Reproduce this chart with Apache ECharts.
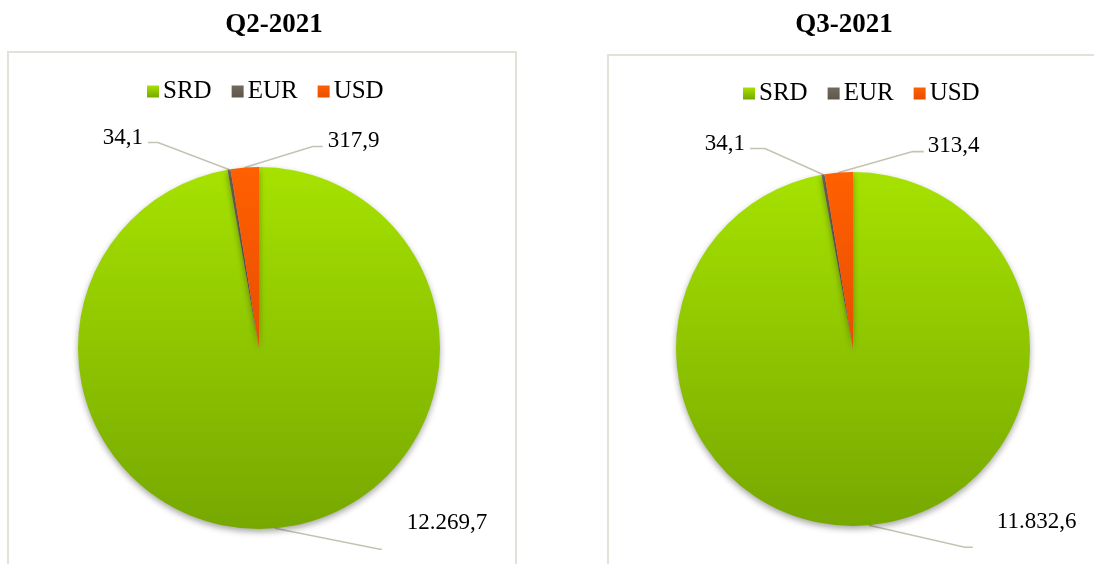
<!DOCTYPE html>
<html>
<head>
<meta charset="utf-8">
<script src="https://cdn.jsdelivr.net/npm/echarts@6/dist/echarts.min.js"></script>
<style>
	html, body { margin: 0; padding: 0; background: #fff; }
	#main { width: 1094px; height: 564px; }
</style>
</head>
<body>
<div id="main"></div>
<script>
// data
var quarters = ['Q2-2021', 'Q3-2021'];
var currencies = ['SRD', 'EUR', 'USD'];
var q2Values = [12269.7, 34.1, 317.9];
var q3Values = [11832.6, 34.1, 313.4];

var colors = {
	SRD: new echarts.graphic.LinearGradient(0, 0, 0, 1, [
		{ offset: 0, color: '#a6e200' },
		{ offset: 1, color: '#76a800' }
	]),
	EUR: new echarts.graphic.LinearGradient(0, 0, 0, 1, [
		{ offset: 0, color: '#736a5e' },
		{ offset: 1, color: '#5e564b' }
	]),
	USD: new echarts.graphic.LinearGradient(0, 0, 0, 1, [
		{ offset: 0, color: '#ff6000' },
		{ offset: 1, color: '#e84e00' }
	])
};

// 12269.7 -> 12.269,7
var fmt = function (v) {
	var parts = v.toFixed(1).split('.');
	var intPart = parts[0].replace(/\B(?=(\d{3})+(?!\d))/g, '.');
	return intPart + ',' + parts[1];
};

// leader line shapes per pie: mid point, end point, label offset (from slice edge)
var leaders = [
	{
		SRD: { mid: [105, 21], end: [2, 0], label: [25, -26], align: 'left' },
		EUR: { mid: [-71, -27], end: [-10, 0], label: [-5, -5], align: 'right' },
		USD: { mid: [68, -21], end: [10, 0], label: [5, -6], align: 'left' }
	},
	{
		SRD: { mid: [96, 22], end: [8, 0], label: [24, -25], align: 'left' },
		EUR: { mid: [-58, -26], end: [-15, 0], label: [-5, -5], align: 'right' },
		USD: { mid: [74, -21], end: [11, 0], label: [4, -6], align: 'left' }
	}
];

var makeLayout = function (idx) {
	return function (params) {
		var name = currencies[params.dataIndex];
		var l = leaders[idx][name];
		var s = params.labelLinePoints[0];
		var m = [s[0] + l.mid[0], s[1] + l.mid[1]];
		var e = [m[0] + l.end[0], m[1] + l.end[1]];
		return {
			x: e[0] + l.label[0],
			y: e[1] + l.label[1],
			align: l.align,
			verticalAlign: 'middle',
			labelLinePoints: [s, m, e]
		};
	};
};

var makeSeries = function (idx, values, center, radius) {
	var data = [];
	for (var i = 0; i < currencies.length; i++) {
		data.push({
			name: currencies[i],
			value: values[i],
			itemStyle: { color: colors[currencies[i]] }
		});
	}
	return {
		type: 'pie',
		name: quarters[idx],
		center: center,
		radius: radius,
		startAngle: 90,
		clockwise: true,
		avoidLabelOverlap: false,
		silent: true,
		animation: false,
		itemStyle: {
			shadowColor: 'rgba(0,0,0,0.35)',
			shadowBlur: 6,
			shadowOffsetY: 3
		},
		label: {
			show: true,
			position: 'outside',
			formatter: function (p) { return fmt(p.value); },
			fontFamily: 'Liberation Serif',
			fontSize: 23,
			color: '#000'
		},
		labelLine: {
			show: true,
			length: 20,
			length2: 10,
			lineStyle: { color: '#c6c2b2', width: 1.6 }
		},
		labelLayout: makeLayout(idx),
		data: data
	};
};

var legendBase = function (x, y) {
	return {
		left: x,
		top: y,
		padding: 0,
		icon: 'rect',
		itemWidth: 12,
		itemHeight: 12,
		itemGap: 20,
		selectedMode: false,
		data: currencies,
		textStyle: { fontFamily: 'Liberation Serif', fontSize: 25, color: '#000', padding: [0, 0, 0, -1] }
	};
};

var titleBase = function (text, x) {
	return {
		text: text,
		left: x,
		top: 7,
		textAlign: 'center',
		textStyle: { fontFamily: 'Liberation Serif', fontSize: 27, fontWeight: 'bold', color: '#000' }
	};
};

var chart = echarts.init(document.getElementById('main'), null, { renderer: 'canvas' });

var option = {
	backgroundColor: '#fff',
	animation: false,
	title: [
		titleBase(quarters[0], 269),
		titleBase(quarters[1], 839)
	],
	legend: [
		legendBase(147, 79),
		legendBase(743, 81)
	],
	graphic: [
		{ type: 'rect', shape: { x: 8, y: 52, width: 508, height: 530 }, style: { fill: 'none', stroke: '#e2e2da', lineWidth: 2 }, silent: true },
		{ type: 'rect', shape: { x: 608, y: 55, width: 500, height: 530 }, style: { fill: 'none', stroke: '#e2e2da', lineWidth: 2 }, silent: true }
	],
	series: [
		makeSeries(0, q2Values, [259, 348], 181),
		makeSeries(1, q3Values, [853, 349], 177)
	]
};

chart.setOption(option);
</script>
</body>
</html>
